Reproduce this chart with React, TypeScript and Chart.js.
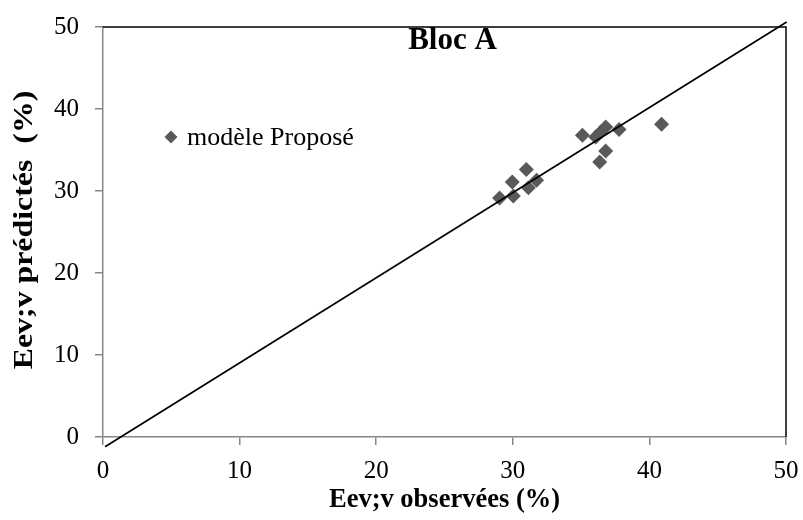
import React, { useEffect, useRef } from "react";
import { Chart, registerables } from "chart.js";

Chart.register(...registerables);

const observed: number[] = [29.03, 30.04, 29.96, 30.99, 31.14, 31.74, 35.1, 36.07, 36.44, 36.8, 37.78, 36.8, 36.36, 40.89];
const predicted: number[] = [29.15, 29.39, 31.1, 32.61, 30.41, 31.3, 36.79, 36.59, 37.2, 37.8, 37.49, 34.88, 33.54, 38.13];
const lineX: number[] = [0.15, 50.05];
const lineY: number[] = [-1.2, 50.6];
const tickValues: number[] = [0, 10, 20, 30, 40, 50];

const chartTitle = "Bloc A";
const legendLabel = "modèle Proposé";
const xTitle = "Eev;v observées (%)";
const yTitle = "Eev;v prédictés  (%)";

const SERIF = "'Liberation Serif', 'Times New Roman', serif";
const POINT_COLOR = "#595959";
const AXIS_GRAY = "#878787";

const overlay = {
  id: "overlay",
  afterDraw(chart: any) {
    const { ctx, chartArea } = chart;
    ctx.save();
    // top & right border
    ctx.strokeStyle = "#000";
    ctx.lineWidth = 1.5;
    ctx.beginPath();
    ctx.moveTo(chartArea.left, chartArea.top);
    ctx.lineTo(chartArea.right, chartArea.top);
    ctx.lineTo(chartArea.right, chartArea.bottom);
    ctx.stroke();
    // title
    ctx.fillStyle = "#000";
    ctx.font = `bold 31px ${SERIF}`;
    ctx.textAlign = "center";
    ctx.textBaseline = "alphabetic";
    ctx.fillText(chartTitle, 452.5, 49);
    // legend
    ctx.fillStyle = POINT_COLOR;
    const cx = 171, cy = 137, r = 6.5;
    ctx.beginPath();
    ctx.moveTo(cx, cy - r);
    ctx.lineTo(cx + r, cy);
    ctx.lineTo(cx, cy + r);
    ctx.lineTo(cx - r, cy);
    ctx.closePath();
    ctx.fill();
    ctx.fillStyle = "#000";
    ctx.font = `26px ${SERIF}`;
    ctx.textAlign = "left";
    ctx.fillText(legendLabel, 187, 145);
    // y axis title (stretched along its length as in the reference)
    ctx.save();
    ctx.translate(32, 230);
    ctx.rotate(-Math.PI / 2);
    ctx.scale(1.18, 1);
    ctx.font = `bold 27px ${SERIF}`;
    ctx.textAlign = "center";
    ctx.textBaseline = "alphabetic";
    ctx.fillText(yTitle, 0, 0);
    ctx.restore();
    ctx.restore();
  },
};

export default function App() {
  const ref = useRef<HTMLCanvasElement | null>(null);
  useEffect(() => {
    document.body.style.margin = "0";
    const canvas = ref.current;
    if (!canvas) return;
    const chart = new Chart(canvas, {
      type: "scatter",
      data: {
        datasets: [
          {
            label: legendLabel,
            data: observed.map((x, i) => ({ x, y: predicted[i] })),
            pointStyle: "rectRot",
            pointRadius: 7.5,
            pointBackgroundColor: POINT_COLOR,
            pointBorderColor: POINT_COLOR,
            pointBorderWidth: 0,
            showLine: false,
            order: 1,
          } as any,
          {
            label: "y=x",
            data: lineX.map((x, i) => ({ x, y: lineY[i] })),
            showLine: true,
            borderColor: "#000",
            borderWidth: 1.7,
            pointRadius: 0,
            clip: false,
            order: 0,
          } as any,
        ],
      },
      options: {
        animation: false,
        responsive: false,
        layout: { padding: { top: 27, right: 17, left: 0, bottom: 0 } },
        plugins: {
          legend: { display: false },
          title: { display: false },
          tooltip: { enabled: false },
        },
        scales: {
          x: {
            type: "linear",
            min: 0,
            max: 50,
            afterFit: (s: any) => {
              s.height = 83;
              s.paddingLeft = 0;
              s.paddingRight = 0;
            },
            afterBuildTicks: (s: any) => { s.ticks = tickValues.map((v) => ({ value: v })); },
            ticks: { color: "#000", font: { family: SERIF, size: 25 }, padding: 11 },
            grid: { drawOnChartArea: false, drawTicks: true, tickLength: 8, color: AXIS_GRAY, lineWidth: 1.5 },
            border: { color: AXIS_GRAY, width: 1.5 },
            title: {
              display: true,
              text: xTitle,
              color: "#000",
              font: { family: SERIF, size: 26.5, weight: "bold" },
              padding: { top: 0, bottom: 4 },
            },
          },
          y: {
            type: "linear",
            min: 0,
            max: 50,
            afterFit: (s: any) => {
              s.width = 103;
              s.paddingTop = 0;
              s.paddingBottom = 0;
            },
            afterBuildTicks: (s: any) => { s.ticks = tickValues.map((v) => ({ value: v })); },
            ticks: { color: "#000", font: { family: SERIF, size: 25 }, padding: 16 },
            grid: { drawOnChartArea: false, drawTicks: true, tickLength: 8, color: AXIS_GRAY, lineWidth: 1.5 },
            border: { color: AXIS_GRAY, width: 1.5 },
            title: { display: false },
          },
        },
      },
      plugins: [overlay],
    } as any);
    return () => chart.destroy();
  }, []);
  return (
    <div style={{ width: 803, height: 520, background: "#fff" }}>
      <canvas ref={ref} width={803} height={520} style={{ display: "block" }} />
    </div>
  );
}
